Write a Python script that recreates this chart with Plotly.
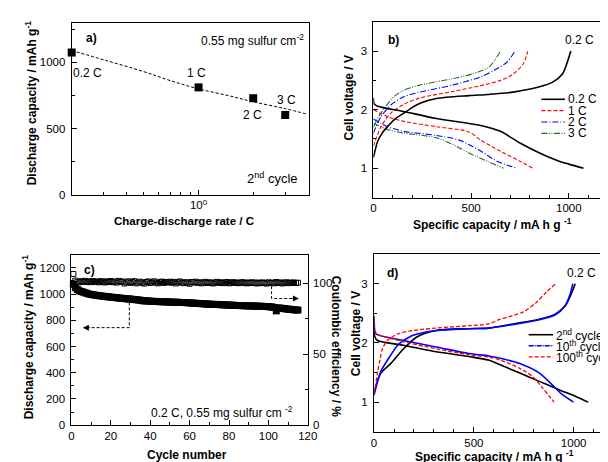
import plotly.graph_objects as go

# ---------------- data ----------------
# panel a
a_rate = [0.2, 1, 2, 3]
a_cap = [1075, 811, 729, 602]
a_fit_rate = [0.2, 0.3, 0.5, 0.7, 1, 1.5, 2, 3, 4]
a_fit_cap = [1090, 1020, 930, 862, 800, 745, 702, 650, 607]
a_labels = ["0.2 C", "1 C", "2 C", "3 C"]

# panel b (rate capability voltage profiles)
b02_chg_x = [0, 10, 22, 45, 72, 110, 155, 200, 239, 322, 489, 589, 716, 850, 917, 967, 992, 1010]
b02_chg_y = [1.18, 1.32, 1.46, 1.6, 1.71, 1.84, 1.94, 2.04, 2.11, 2.19, 2.24, 2.26, 2.30, 2.39, 2.47, 2.61, 2.81, 3.0]
b02_dis_x = [0, 4, 22, 155, 322, 549, 650, 750, 850, 950, 1000, 1075]
b02_dis_y = [2.2, 2.1, 2.06, 1.97, 1.85, 1.73, 1.63, 1.43, 1.26, 1.12, 1.07, 1.0]
b1_chg_x = [0, 10, 39, 89, 155, 239, 406, 549, 650, 716, 766, 790]
b1_chg_y = [1.38, 1.47, 1.71, 1.94, 2.09, 2.20, 2.31, 2.41, 2.50, 2.61, 2.78, 3.0]
b1_dis_x = [0, 72, 155, 322, 489, 549, 650, 750, 816]
b1_dis_y = [2.0, 1.88, 1.80, 1.71, 1.62, 1.48, 1.29, 1.12, 1.0]
b2_chg_x = [0, 15, 39, 89, 155, 239, 406, 549, 616, 683, 725]
b2_chg_y = [1.6, 1.72, 1.88, 2.08, 2.22, 2.30, 2.42, 2.56, 2.67, 2.81, 3.0]
b2_dis_x = [0, 72, 155, 322, 439, 540, 633, 733]
b2_dis_y = [1.84, 1.71, 1.63, 1.56, 1.48, 1.31, 1.12, 1.0]
b3_chg_x = [0, 20, 55, 105, 155, 239, 406, 506, 589, 620, 650]
b3_chg_y = [1.7, 1.84, 2.02, 2.22, 2.33, 2.42, 2.53, 2.61, 2.72, 2.84, 3.0]
b3_dis_x = [0, 72, 155, 322, 422, 489, 589, 666]
b3_dis_y = [1.77, 1.66, 1.60, 1.52, 1.38, 1.26, 1.11, 1.0]
b_legend = ["0.2 C", "1 C", "2 C", "3 C"]

# panel c (cycling)
cycles = list(range(1, 116))
c_cap = [
    1075, 1050, 1035, 1025, 1020, 1015, 1010, 1005, 1000, 997,
    995, 992, 990, 988, 986, 984, 982, 980, 979, 977,
    975, 974, 972, 970, 969, 967, 966, 964, 963, 962,
    960, 958, 957, 955, 953, 950, 948, 949, 947, 946,
    945, 944, 944, 943, 942, 942, 941, 941, 940, 939,
    939, 938, 938, 937, 937, 936, 936, 935, 934, 933,
    932, 931, 930, 929, 928, 927, 926, 925, 924, 923,
    922, 922, 921, 921, 920, 919, 918, 918, 917, 916,
    915, 915, 914, 913, 913, 912, 912, 911, 911, 910,
    910, 909, 909, 908, 908, 907, 906, 906, 905, 904,
    903, 901, 898, 872, 895, 893, 891, 889, 887, 885,
    884, 882, 880, 879, 878]
c_ce = [
    106.5, 101.8, 101.0, 100.6, 101.4, 100.9, 101.6, 100.8, 101.3, 100.7,
    101.5, 100.9, 101.2, 100.6, 101.4, 101.0, 100.5, 101.3, 100.8, 101.5,
    100.7, 101.1, 100.4, 101.6, 100.9, 101.2, 99.8, 100.6, 101.3, 100.2,
    100.8, 101.4, 99.9, 100.5, 101.0, 100.3, 99.7, 100.8, 101.2, 100.1,
    100.6, 101.3, 100.4, 99.9, 100.7, 101.1, 100.2, 100.8, 100.5, 101.0,
    100.3, 100.9, 99.8, 100.6, 101.2, 100.4, 100.0, 100.7, 100.3, 99.6,
    100.8, 100.5, 101.0, 100.2, 100.6, 99.9, 100.4, 100.9, 100.1, 100.6,
    100.3, 99.8, 100.5, 100.9, 100.2, 100.6, 100.0, 100.4, 100.8, 99.9,
    100.3, 100.7, 100.1, 100.5, 100.0, 100.4, 100.7, 100.2, 99.9, 100.5,
    100.1, 100.6, 100.3, 99.8, 100.4, 100.0, 100.5, 100.2, 99.7, 100.6,
    100.1, 100.4, 99.9, 100.8, 100.2, 100.5, 99.8, 100.3, 100.6, 100.0,
    100.4, 100.2, 100.5, 100.1, 100.3]

# panel d (voltage profiles at cycles 2, 10, 100)
d2_chg_x = [0, 15, 34, 83, 148, 214, 312, 475, 573, 697, 828, 910, 959, 983, 1008]
d2_chg_y = [1.16, 1.33, 1.49, 1.65, 1.90, 2.10, 2.21, 2.24, 2.25, 2.32, 2.40, 2.49, 2.63, 2.79, 3.0]
d2_dis_x = [0, 4, 18, 148, 312, 475, 573, 632, 730, 828, 926, 1008, 1073]
d2_dis_y = [2.2, 2.1, 2.04, 1.96, 1.85, 1.77, 1.71, 1.63, 1.49, 1.35, 1.21, 1.10, 1.0]
d10_chg_x = [0, 15, 34, 83, 118, 148, 196, 312, 475, 573, 697, 828, 910, 955, 980, 996]
d10_chg_y = [1.12, 1.32, 1.52, 1.79, 1.96, 2.04, 2.13, 2.21, 2.24, 2.25, 2.31, 2.39, 2.48, 2.62, 2.80, 3.0]
d10_dis_x = [0, 4, 10, 148, 312, 475, 573, 632, 730, 828, 893, 942, 999]
d10_dis_y = [2.45, 2.2, 2.15, 2.04, 1.93, 1.82, 1.78, 1.74, 1.65, 1.49, 1.29, 1.13, 1.0]
d100_chg_x = [0, 8, 18, 30, 42, 67, 118, 196, 312, 475, 573, 632, 746, 812, 861, 910]
d100_chg_y = [1.15, 1.3, 1.52, 1.72, 1.90, 2.04, 2.15, 2.21, 2.25, 2.29, 2.32, 2.40, 2.52, 2.68, 2.85, 3.0]
d100_dis_x = [0, 4, 15, 148, 312, 475, 573, 632, 730, 795, 844, 885, 902]
d100_dis_y = [2.42, 2.2, 2.15, 2.02, 1.90, 1.80, 1.76, 1.71, 1.57, 1.43, 1.24, 1.07, 1.0]
d_legend = ["2<sup>nd</sup> cycle", "10<sup>th</sup> cycle", "100<sup>th</sup> cycle"]

# ---------------- layout helpers ----------------
W, H = 608, 462
FONT = "Liberation Sans, Arial, sans-serif"


def px(x):
    return x / W


def py(y):
    return 1 - y / H


def axis(domain, rng, anchor, **kw):
    d = dict(domain=domain, range=rng, anchor=anchor, showline=True, linecolor="black",
             linewidth=1, mirror=True, ticks="inside", ticklen=5, tickwidth=1,
             tickcolor="black", showgrid=False, zeroline=False,
             tickfont=dict(size=11.5, color="black", family=FONT))
    d.update(kw)
    return d


def minor(dt):
    return dict(ticks="inside", ticklen=3, tickwidth=1, tickcolor="black", dtick=dt)


fig = go.Figure()

# panel a
fig.add_trace(go.Scatter(x=a_fit_rate, y=a_fit_cap, mode="lines", xaxis="x", yaxis="y",
                         line=dict(color="black", width=1, dash="3px,2px", shape="spline")))
fig.add_trace(go.Scatter(x=a_rate, y=a_cap, mode="markers", xaxis="x", yaxis="y", cliponaxis=False,
                         marker=dict(symbol="square", size=8, color="black")))

# panel b
b_styles = [("black", 1.6, "solid"), ("red", 1.1, "4px,2px"), ("blue", 1.1, "6px,2px,1px,2px"),
            ("#1e6b1e", 1.1, "6px,1.5px,1px,1.5px,1px,1.5px")]
b_curves = [(b02_chg_x, b02_chg_y, b02_dis_x, b02_dis_y), (b1_chg_x, b1_chg_y, b1_dis_x, b1_dis_y),
            (b2_chg_x, b2_chg_y, b2_dis_x, b2_dis_y), (b3_chg_x, b3_chg_y, b3_dis_x, b3_dis_y)]
for (cx, cy, dx, dy), (col, w, dash) in zip(b_curves[::-1], b_styles[::-1]):
    for xx, yy in ((cx, cy), (dx, dy)):
        fig.add_trace(go.Scatter(x=xx, y=yy, mode="lines", xaxis="x2", yaxis="y2",
                                 line=dict(color=col, width=w, dash=dash, shape="spline", smoothing=0.8)))

# panel c
fig.add_trace(go.Scatter(x=cycles, y=c_ce, mode="markers", xaxis="x3", yaxis="y5", cliponaxis=False,
                         marker=dict(symbol="square-open", size=5, color="black", line=dict(width=1))))
fig.add_trace(go.Scatter(x=cycles, y=c_cap, mode="markers", xaxis="x3", yaxis="y3", cliponaxis=False,
                         marker=dict(symbol="square", size=7, color="black")))

# panel d
d_styles = [("black", 1.6, "solid"), ("blue", 1.6, "solid"), ("red", 1.3, "4px,2px")]
d_curves = [(d2_chg_x, d2_chg_y, d2_dis_x, d2_dis_y), (d10_chg_x, d10_chg_y, d10_dis_x, d10_dis_y),
            (d100_chg_x, d100_chg_y, d100_dis_x, d100_dis_y)]
for (cx, cy, dx, dy), (col, w, dash) in zip(d_curves, d_styles):
    for xx, yy in ((cx, cy), (dx, dy)):
        fig.add_trace(go.Scatter(x=xx, y=yy, mode="lines", xaxis="x4", yaxis="y4",
                                 line=dict(color=col, width=w, dash=dash, shape="spline", smoothing=0.8)))

layout = dict(
    width=W, height=H, margin=dict(l=0, r=0, t=0, b=0), showlegend=False,
    paper_bgcolor="white", plot_bgcolor="white",
    font=dict(family=FONT, size=12, color="black"),
    xaxis=axis([px(62), px(304)], [-0.699, 0.6055], "y", type="log", tickvals=[1],
               ticktext=["10<sup>0</sup>"],
               minor=dict(ticks="inside", ticklen=3, tickcolor="black", tickmode="array",
                          tickvals=[0.3, 0.4, 0.5, 0.6, 0.7, 0.8, 0.9, 2, 3, 4])),
    yaxis=axis([py(189), py(15)], [0, 1300], "x", dtick=500, minor=minor(250), ticklabelstandoff=3),
    xaxis2=axis([px(370.3), 1.0], [0, 1190], "y2", tickmode="array", tickvals=[0, 500, 1000],
                minor=minor(100)),
    yaxis2=axis([py(192), py(14)], [0.5, 3.5], "x2", dtick=1, minor=minor(0.5), ticklabelstandoff=3),
    xaxis3=axis([px(61.7), px(303.3)], [0, 120], "y3", dtick=20, minor=minor(10)),
    yaxis3=axis([py(422.7), py(250)], [0, 1300], "x3", dtick=200, minor=minor(100), mirror=False,
                ticklabelstandoff=3),
    yaxis5=axis([py(422.7), py(250)], [0, 120], "x3", overlaying="y3", side="right",
                dtick=50, minor=minor(25), ticklabelstandoff=2),
    xaxis4=axis([px(371), 1.0], [0, 1162], "y4", tickmode="array", tickvals=[0, 500, 1000],
                minor=minor(100)),
    yaxis4=axis([py(429.3), py(249.3)], [0.5, 3.5], "x4", dtick=1, minor=minor(0.5), mirror=False,
                ticklabelstandoff=3),
)
fig.update_layout(**layout)

ann = []


def txt(x, y, t, size=12, bold=False, angle=0, xanchor="center"):
    if bold:
        t = "<b>" + t + "</b>"
    ann.append(dict(x=px(x), y=py(y), xref="paper", yref="paper", text=t, showarrow=False,
                    textangle=angle, xanchor=xanchor, yanchor="middle",
                    font=dict(size=size, family=FONT, color="black")))


# axis titles
txt(20, 96, "Discharge capacity / mAh g<sup>-1</sup>", bold=True, angle=-90)
txt(177, 216, "Charge-discharge rate / C", size=11.5, bold=True)
txt(345, 91, "Cell voltage / V", bold=True, angle=-90)
txt(492, 219, "Specific capacity / mA h g <sup>-1</sup>", bold=True)
txt(17, 333, "Discharge capacity / mAh g<sup>-1</sup>", bold=True, angle=-90)
txt(333, 343, "Coulombic efficiency / %", bold=True, angle=90)
txt(352, 330, "Cell voltage / V", bold=True, angle=-90)
txt(180, 453, "Cycle number", bold=True)
txt(494, 453.5, "Specific capacity / mA h g <sup>-1</sup>", bold=True)

# panel letters and notes
txt(82, 30, "a)", bold=True)
txt(391, 32, "b)", bold=True)
txt(80, 265, "c)", bold=True)
txt(390, 268, "d)", bold=True)
txt(247, 32, "0.55 mg sulfur cm<sup>-2</sup>")
txt(267, 172, "2<sup>nd</sup> cycle", size=13)
txt(581, 32, "0.2 C")
txt(583, 268, "0.2 C")
txt(216, 409, "0.2 C, 0.55 mg sulfur cm <sup>-2</sup>")

# point labels in panel a
for lab, (lx, ly) in zip(a_labels, [(78, 66), (190, 66), (247, 108), (282, 93)]):
    txt(lx, ly, lab)

shapes = []
# legend b
for i, (lab, (col, w, dash)) in enumerate(zip(b_legend, b_styles)):
    yy = 92.5 + i * 11.5
    shapes.append(dict(type="line", xref="paper", yref="paper", x0=px(542), x1=px(566),
                       y0=py(yy), y1=py(yy), line=dict(color=col, width=w, dash=dash)))
    txt(567.5, yy, lab, xanchor="left")
# legend d
for i, (lab, (col, w, dash)) in enumerate(zip(d_legend, d_styles)):
    yy = 331 + i * 11.2
    shapes.append(dict(type="line", xref="paper", yref="paper", x0=px(529), x1=px(554),
                       y0=py(yy), y1=py(yy), line=dict(color=col, width=w if col != "blue" else 1.3,
                                                        dash=dash if col != "blue" else "5px,1px,1px,1px")))
    txt(555, yy, lab, xanchor="left")

# dashed guide arrows in panel c
shapes.append(dict(type="path", xref="x3", yref="y3", path="M 29.4,975 L 29.4,744 L 8,744",
                   line=dict(color="black", width=1, dash="3px,2px")))
shapes.append(dict(type="path", xref="x3", yref="y5", path="M 101.6,97.9 L 101.6,89.2 L 112,89.2",
                   line=dict(color="black", width=1, dash="3px,2px")))
ann.append(dict(x=5.8, y=744, xref="x3", yref="y3", ax=8, ay=0, axref="pixel", ayref="pixel",
                text="", showarrow=True, arrowhead=2, arrowsize=1.2, arrowwidth=1, arrowcolor="black"))
ann.append(dict(x=115.5, y=89.2, xref="x3", yref="y5", ax=-8, ay=0, axref="pixel", ayref="pixel",
                text="", showarrow=True, arrowhead=2, arrowsize=1.2, arrowwidth=1, arrowcolor="black"))

fig.update_layout(annotations=ann, shapes=shapes)
fig.write_html("out.html")
